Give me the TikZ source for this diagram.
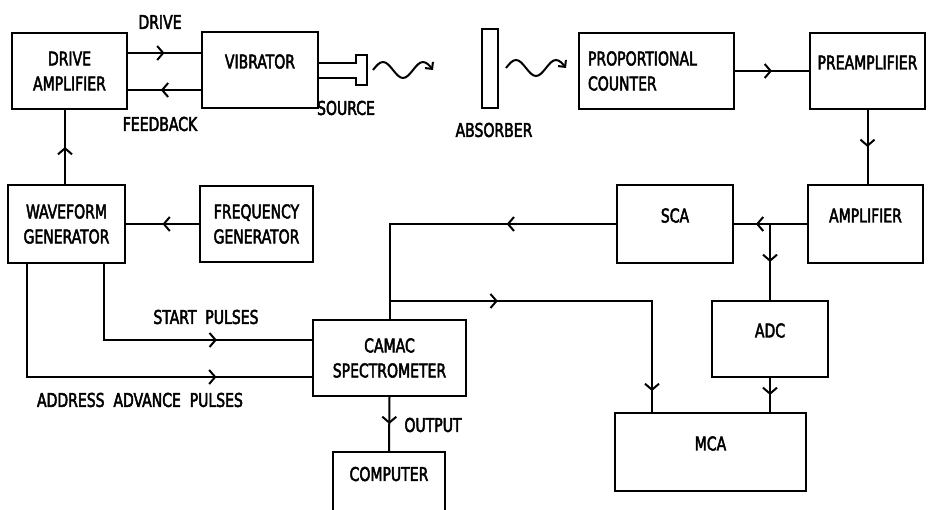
\documentclass[tikz,border=0pt]{standalone}
\usepackage{fontspec}
\setmainfont{DejaVu Sans Condensed}[FakeStretch=0.82, FakeBold=2.5]
\usetikzlibrary{arrows.meta, positioning, calc, decorations.markings}
\tikzset{chev/.tip={Straight Barb[length=6pt, width=14pt]}}

\begin{document}
\begin{tikzpicture}[
      x=1pt, y=-1pt,
      line width=2pt,
      font=\fontsize{19}{25}\selectfont,
      box/.style={rectangle, draw, line width=2pt, align=center, inner sep=0pt},
      onel/.style={text height=11pt, text depth=14pt},
      midarr/.style={postaction={decorate}, decoration={markings,
                     mark=at position #1 with {\arrow{chev}}}},
      midarr/.default=0.5,
      twoarr/.style 2 args={postaction={decorate}, decoration={markings,
                     mark=at position #1 with {\arrow{chev}},
                     mark=at position #2 with {\arrow{chev}}}},
      wave/.style={-{Straight Barb[length=5pt, width=10pt]}}
    ]
    \useasboundingbox (0,0) rectangle (930,510);
    % top row
    \node[box, minimum width=115pt, minimum height=76pt] (damp) at (69.5,71) {DRIVE\\AMPLIFIER};
    \node[box, onel, minimum width=116pt, minimum height=76pt] (vib) at (260,70) {VIBRATOR};
    \node[box, minimum width=16pt, minimum height=79pt] (abs) at (490,68.5) {};
    \node[box, align=left, text width=137pt, inner sep=9pt, minimum height=76pt] (pc) at (656.5,71) {PROPORTIONAL\\COUNTER};
    \node[box, onel, minimum width=115pt, minimum height=76pt] (pre) at (867.5,71) {PREAMPLIFIER};
    % middle row
    \node[box, minimum width=117pt, minimum height=78pt] (wav) at (66.5,224) {WAVEFORM\\GENERATOR};
    \node[box, minimum width=113pt, minimum height=76pt] (freq) at (256.5,224) {FREQUENCY\\GENERATOR};
    \node[box, onel, minimum width=116pt, minimum height=78pt] (sca) at (675,224) {SCA};
    \node[box, onel, minimum width=115pt, minimum height=78pt] (amp) at (865.5,224) {AMPLIFIER};
    % lower part
    \node[box, minimum width=153pt, minimum height=76pt] (camac) at (389.5,358) {CAMAC\\SPECTROMETER};
    \node[box, onel, minimum width=116pt, minimum height=76pt] (adc) at (770,339) {ADC};
    \node[box, onel, minimum width=191pt, minimum height=78pt] (mca) at (710.5,452) {MCA};
    \node[box, onel, minimum width=112pt, minimum height=61pt] (comp) at (389,482.5) {COMPUTER};
    % source on the vibrator
    \draw ([yshift=7pt]vib.east) -- ++(37,0) -- ++(0,-8) -- ++(11,0) -- ++(0,30)
          -- ++(-11,0) -- ++(0,-7) -- ([yshift=-8pt]vib.east);
    \coordinate (g1) at (373,70);
    \coordinate (g2) at (506,68);
    \draw[wave] (g1) sin ++(10,-8) cos ++(10,8) sin ++(10,8) cos ++(10,-8) sin ++(10,-8) cos ++(10,8);
    \draw[wave] (g2) sin ++(10,-8) cos ++(10,8) sin ++(10,8) cos ++(10,-8) sin ++(10,-8) cos ++(10,8);
    % labels
    \node (ldrive) at (160,22) {DRIVE};
    \node (lfeed) at (160,124) {FEEDBACK};
    \node (lsrc) at (346,108) {SOURCE};
    \node (labs) at (494,130) {ABSORBER};
    \node (lstart) at (206,317) {START\ \ PULSES};
    \node (laddr) at (140,400) {ADDRESS\ \ ADVANCE\ \ PULSES};
    \node (lout) at (433,425) {OUTPUT};
    % connectors
    \draw[midarr] ([yshift=18pt]damp.east) -- ([yshift=17pt]vib.west);
    \draw[midarr=0.55] ([yshift=-20pt]vib.west) -- ([yshift=-19pt]damp.east);
    \draw[midarr] ([xshift=-1.5pt]wav.north) -- ([xshift=-1.5pt]wav.north |- damp.south);
    \draw[midarr] (freq.west) -- (wav.east);
    \draw[midarr] (pc.east) -- (pre.west);
    \draw[midarr] (pre.south) -- (pre.south |- amp.north);
    \draw[midarr=0.7] (amp.west) -- (sca.east);
    \draw[midarr] (amp.west -| adc.north) -- (adc.north);
    \draw[midarr] (adc.south) -- (adc.south |- mca.north);
    \draw[midarr=0.34] (sca.west) -| (camac.north);
    \draw[twoarr={0.29}{0.944}] ([yshift=18pt]camac.north) -| ([xshift=38pt]mca.north west);
    \draw[midarr=0.665] ([xshift=-22pt]wav.south east) |- ([yshift=18pt]camac.west);
    \draw[midarr=0.76] ([xshift=20pt]wav.south west) |- ([yshift=-19pt]camac.west);
    \draw[midarr] (camac.south) -- (comp.north);
  \end{tikzpicture}
\end{document}
